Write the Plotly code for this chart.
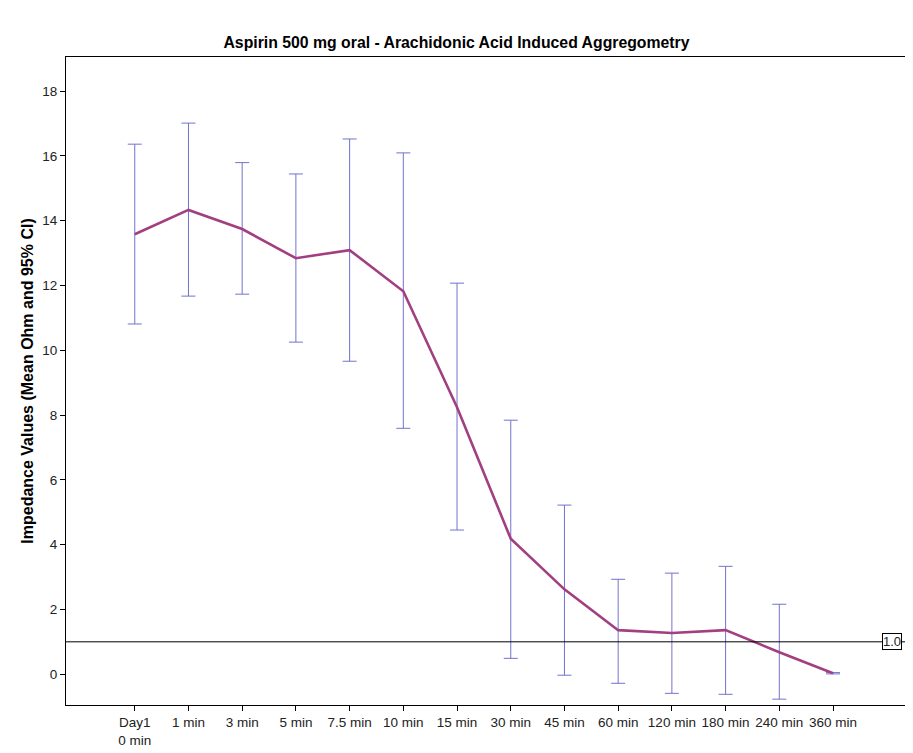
import plotly.graph_objects as go

categories = ["Day1<br>0 min", "1 min", "3 min", "5 min", "7.5 min", "10 min", "15 min",
              "30 min", "45 min", "60 min", "120 min", "180 min", "240 min", "360 min"]
mean_vals = [13.58, 14.33, 13.74, 12.84, 13.09, 11.82, 8.24, 4.18, 2.62, 1.36, 1.27, 1.36, 0.68, 0.03]
upper_ci = [16.36, 17.01, 15.79, 15.44, 16.52, 16.09, 12.07, 7.84, 5.22, 2.93, 3.12, 3.33, 2.16, 0.05]
lower_ci = [10.81, 11.67, 11.73, 10.25, 9.66, 7.59, 4.45, 0.49, -0.03, -0.28, -0.59, -0.62, -0.77, 0.01]
ref_value = 1.0
y_ticks = [0, 2, 4, 6, 8, 10, 12, 14, 16, 18]

xs = list(range(len(categories)))
err_plus = [u - m for u, m in zip(upper_ci, mean_vals)]
err_minus = [m - l for m, l in zip(mean_vals, lower_ci)]

W, H = 897, 745

fig = go.Figure()
fig.add_trace(go.Scatter(
    x=xs, y=mean_vals, mode="lines",
    line=dict(color="#A23F80", width=2.6),
    error_y=dict(type="data", symmetric=False, array=err_plus, arrayminus=err_minus,
                 color="#7272CE", thickness=1, width=7),
    showlegend=False, hoverinfo="skip"))

fig.add_shape(type="line", xref="paper", x0=0, x1=1, yref="y", y0=ref_value, y1=ref_value,
              line=dict(color="black", width=1))
fig.add_annotation(xref="paper", x=1, yref="y", y=ref_value, text="1.0", showarrow=False,
                   xanchor="right", xshift=-3, bgcolor="white", bordercolor="black",
                   borderwidth=1, borderpad=0, font=dict(size=13, color="#222",
                                                          family="Liberation Sans, Arial"))

fig.update_layout(
    width=W, height=H,
    margin=dict(l=58, r=0, t=49, b=48),
    paper_bgcolor="white", plot_bgcolor="white",
    font=dict(family="Liberation Sans, Arial", size=13.5, color="#222"),
    title=dict(text="<b>Aspirin 500 mg oral - Arachidonic Acid Induced Aggregometry</b>",
               x=448.5 / W, xref="container", y=1 - 34 / H, yref="container",
               yanchor="middle", xanchor="center",
               font=dict(size=15.8, color="black")),
)
fig.update_xaxes(
    range=[-1.28, 14.34], tickvals=xs, ticktext=categories, automargin=False,
    showline=True, linecolor="black", linewidth=1, mirror=True,
    ticks="outside", ticklen=5, tickcolor="black", showgrid=False, zeroline=False,
    tickfont=dict(size=13.5, color="#222"))
fig.update_yaxes(
    range=[-0.95, 19.05], tickvals=y_ticks,
    showline=True, linecolor="black", linewidth=1, mirror=True,
    ticks="outside", ticklen=5, tickcolor="black", showgrid=False, zeroline=False,
    tickfont=dict(size=13.5, color="#222"),
    title=dict(text="<b>Impedance Values (Mean Ohm and 95% CI)</b>",
               font=dict(size=16, color="black"), standoff=4))

fig.write_html("out.html")
